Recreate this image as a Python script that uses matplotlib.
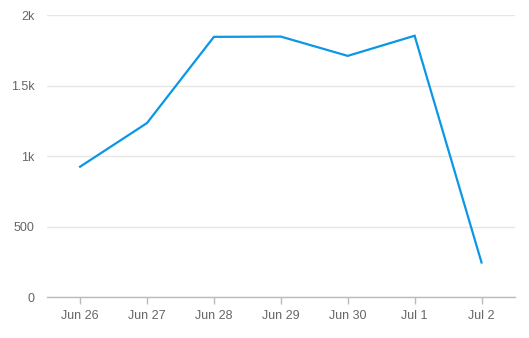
import matplotlib
matplotlib.use("Agg")
import matplotlib.pyplot as plt

categories = ["Jun 26", "Jun 27", "Jun 28", "Jun 29", "Jun 30", "Jul 1", "Jul 2"]
values = [925, 1235, 1847, 1849, 1712, 1855, 245]
y_ticks = [0, 500, 1000, 1500, 2000]
y_tick_labels = ["0", "500", "1k", "1.5k", "2k"]

plt.rcParams['font.family'] = ['Liberation Sans', 'DejaVu Sans']

fig = plt.figure(figsize=(5.29, 3.38), dpi=100)
ax = fig.add_axes([0.0894, 0.1213, 0.9735 - 0.0894, 0.9547 - 0.1213])

x = list(range(len(categories)))
ax.plot(x, values, color="#0b96e6", linewidth=1.6, solid_joinstyle="miter")

ax.set_xlim(-0.49, 6.5)
ax.set_ylim(0, 2000)
ax.set_yticks(y_ticks)
ax.set_yticklabels(y_tick_labels)
ax.set_xticks(x)
ax.set_xticklabels(categories)

ax.grid(axis="y", color="#e6e6e6", linewidth=1)
ax.set_axisbelow(True)
for s in ["top", "right", "left"]:
    ax.spines[s].set_visible(False)
ax.spines["bottom"].set_color("#bbbbbb")
ax.spines["bottom"].set_linewidth(1)

ax.tick_params(axis="y", length=0, pad=9, labelsize=9, labelcolor="#666666")
ax.tick_params(axis="x", length=5, width=1, color="#bbbbbb", pad=4.5, labelsize=9, labelcolor="#666666")

fig.savefig("out.png", dpi=100)
